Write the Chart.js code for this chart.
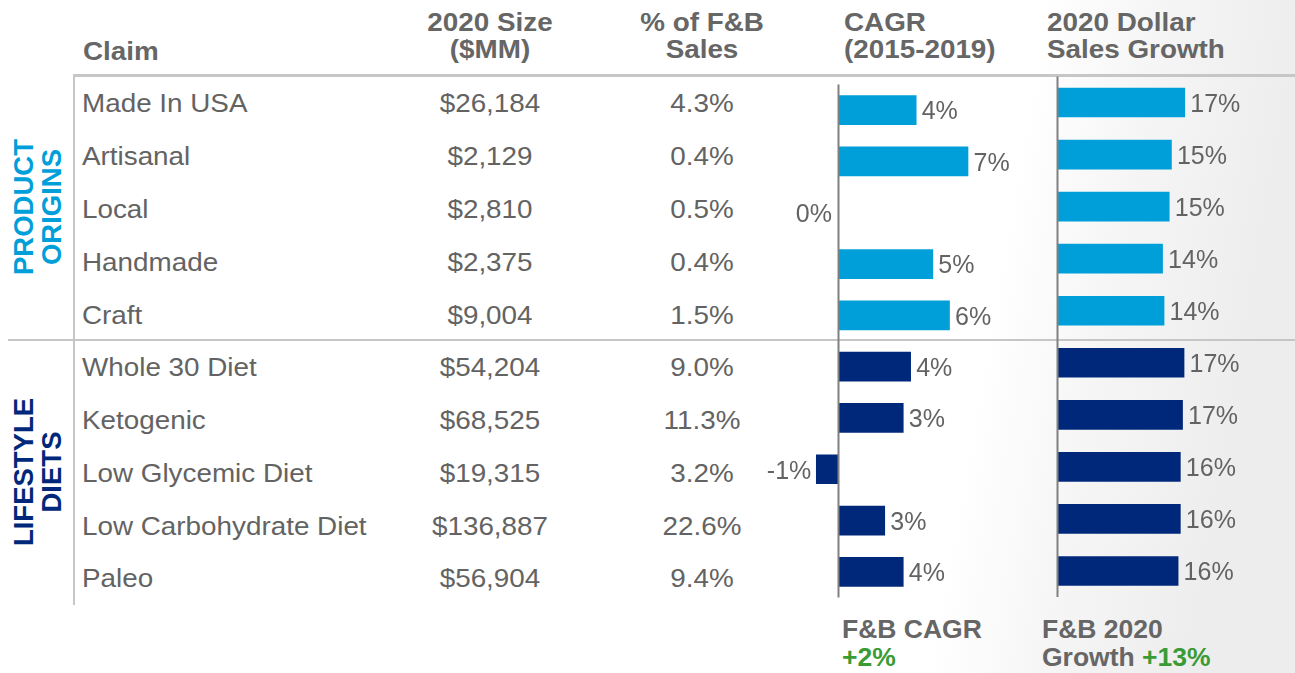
<!DOCTYPE html>
<html>
<head>
<meta charset="utf-8">
<script src="https://cdn.jsdelivr.net/npm/chart.js@4/dist/chart.umd.min.js"></script>
<style>
  html, body { margin: 0; padding: 0; }
  body {
    width: 1295px; height: 673px; position: relative; overflow: hidden;
    font-family: "Liberation Sans", Arial, sans-serif; color: #636363;
    background: linear-gradient(100deg, #ffffff 0px, #ffffff 1030px, #f5f5f5 1150px, #ededed 1295px);
  }
  .abs { position: absolute; white-space: nowrap; }
  .hdr { font-weight: bold; font-size: 26.5px; line-height: 26.7px; color: #666; }
  .cell { font-size: 26.5px; line-height: 26.5px; }
  .line { position: absolute; background: #c6c6c6; }
  .grp { position: absolute; font-weight: bold; font-size: 27.5px; line-height: 28px; text-align: center; width: 240px; height: 56px; transform: rotate(-90deg); }
  .note { font-weight: bold; font-size: 26.5px; line-height: 28px; color: #666; }
  canvas { position: absolute; }
</style>
</head>
<body>
<div id="root"></div>
<canvas id="cagr" width="300" height="540" style="left:740px; top:70px;"></canvas>
<canvas id="growth" width="255" height="540" style="left:1040px; top:70px;"></canvas>
<script>
// ---- data ----
const claims = ["Made In USA", "Artisanal", "Local", "Handmade", "Craft",
                "Whole 30 Diet", "Ketogenic", "Low Glycemic Diet", "Low Carbohydrate Diet", "Paleo"];
const groups = ["PRODUCT ORIGINS", "PRODUCT ORIGINS", "PRODUCT ORIGINS", "PRODUCT ORIGINS", "PRODUCT ORIGINS",
                "LIFESTYLE DIETS", "LIFESTYLE DIETS", "LIFESTYLE DIETS", "LIFESTYLE DIETS", "LIFESTYLE DIETS"];
const size2020 = ["$26,184", "$2,129", "$2,810", "$2,375", "$9,004",
                  "$54,204", "$68,525", "$19,315", "$136,887", "$56,904"];
const shareOfFB = ["4.3%", "0.4%", "0.5%", "0.4%", "1.5%",
                   "9.0%", "11.3%", "3.2%", "22.6%", "9.4%"];
const cagrValues = [4.2, 7.0, 0, 5.1, 6.0, 3.9, 3.5, -1.2, 2.5, 3.5];
const cagrLabels = ["4%", "7%", "0%", "5%", "6%", "4%", "3%", "-1%", "3%", "4%"];
const growthValues = [17.2, 15.4, 15.1, 14.2, 14.4, 17.1, 16.9, 16.6, 16.6, 16.3];
const growthLabels = ["17%", "15%", "15%", "14%", "14%", "17%", "17%", "16%", "16%", "16%"];
const headers = ["Claim", "2020 Size\n($MM)", "% of F&B\nSales", "CAGR\n(2015-2019)", "2020 Dollar\nSales Growth"];
const fbCagr = "+2%";
const fbGrowth = "+13%";

const groupColors = { "PRODUCT ORIGINS": "#009FDA", "LIFESTYLE DIETS": "#00287A" };
const barColors = groups.map(g => groupColors[g]);

// ---- table text (HTML) ----
const root = document.getElementById('root');
function add(cls, html, style) {
  const d = document.createElement('div');
  d.className = 'abs ' + cls;
  d.innerHTML = html;
  Object.assign(d.style, style);
  root.appendChild(d);
  return d;
}
const STRETCH = 'scaleX(1.05)';
// headers
add('hdr', headers[0], { left: '83px', top: '38px', transform: STRETCH, transformOrigin: 'left center' });
add('hdr', headers[1].replace('\n', '<br>'), { left: '390px', width: '200px', textAlign: 'center', top: '9.3px', transform: STRETCH });
add('hdr', headers[2].replace('\n', '<br>'), { left: '602px', width: '200px', textAlign: 'center', top: '9.3px', transform: STRETCH });
add('hdr', headers[3].replace('\n', '<br>'), { left: '843.5px', top: '9.3px', transform: STRETCH, transformOrigin: 'left center' });
add('hdr', headers[4].replace('\n', '<br>'), { left: '1047px', top: '9.3px', transform: STRETCH, transformOrigin: 'left center' });

// rows
claims.forEach((c, i) => {
  const top = (112.8 + 52.78 * i - 22.4) + 'px';
  add('cell', c, { left: '82px', top, transform: STRETCH, transformOrigin: 'left center' });
  add('cell', size2020[i], { left: '390px', width: '200px', textAlign: 'center', top, transform: STRETCH });
  add('cell', shareOfFB[i], { left: '601.5px', width: '200px', textAlign: 'center', top, transform: STRETCH });
});

// group labels
const uniqueGroups = [...new Set(groups)];
const groupCenters = { "PRODUCT ORIGINS": 206.5, "LIFESTYLE DIETS": 472 };
uniqueGroups.forEach(g => {
  const parts = g.split(' ');
  const d = document.createElement('div');
  d.className = 'grp';
  d.innerHTML = parts.join('<br>');
  d.style.left = (38.2 - 120) + 'px';
  d.style.top = (groupCenters[g] - 28) + 'px';
  d.style.color = groupColors[g];
  root.appendChild(d);
});

// lines
function line(l, t, w, h) {
  const d = document.createElement('div');
  d.className = 'line';
  Object.assign(d.style, { left: l + 'px', top: t + 'px', width: w + 'px', height: h + 'px' });
  root.appendChild(d);
}
line(73, 73.5, 1295 - 73, 3);
line(8, 338.5, 1295 - 8, 2.5);
line(72.5, 75, 2.5, 530);

// bottom notes
add('note', 'F&amp;B CAGR<br><span style="color:#3A9B35">' + fbCagr + '</span>', { left: '842px', top: '615px' });
add('note', 'F&amp;B 2020<br>Growth <span style="color:#3A9B35">' + fbGrowth + '</span>', { left: '1042px', top: '615px' });

// ---- charts ----
const valueLabels = {
  id: 'valueLabels',
  afterDatasetsDraw(chart, args, opts) {
    const ctx = chart.ctx;
    const meta = chart.getDatasetMeta(0);
    const zero = chart.scales.x.getPixelForValue(0);
    const area = chart.chartArea;
    ctx.save();
    ctx.strokeStyle = '#808080';
    ctx.lineWidth = 2;
    ctx.beginPath();
    ctx.moveTo(zero, area.top);
    ctx.lineTo(zero, area.bottom);
    ctx.stroke();
    ctx.font = '25px "Liberation Sans", Arial, sans-serif';
    ctx.fillStyle = '#636363';
    ctx.textBaseline = 'alphabetic';
    meta.data.forEach((bar, i) => {
      const v = chart.data.datasets[0].data[i];
      const txt = opts.labels[i];
      const y = bar.y + 9.3;
      if (v > 0) {
        ctx.textAlign = 'left';
        ctx.fillText(txt, bar.x + 5.5, y);
      } else {
        ctx.textAlign = 'right';
        ctx.fillText(txt, Math.min(bar.x, zero - 1.5) - 5, y);
      }
    });
    ctx.restore();
  }
};

function makeChart(id, values, labels, min, max, padding) {
  return new Chart(document.getElementById(id), {
    type: 'bar',
    data: {
      labels: claims,
      datasets: [{
        data: values,
        backgroundColor: barColors,
        borderWidth: 0,
        barThickness: 29
      }]
    },
    options: {
      indexAxis: 'y',
      responsive: false,
      animation: false,
      devicePixelRatio: 1,
      layout: { padding },
      scales: {
        x: { type: 'linear', min, max, display: false },
        y: { type: 'category', display: false, offset: true }
      },
      plugins: {
        legend: { display: false },
        tooltip: { enabled: false },
        valueLabels: { labels }
      }
    },
    plugins: [valueLabels]
  });
}

makeChart('cagr', cagrValues, cagrLabels, -4, 10, { left: 24.5, right: 16.5, top: 14.5, bottom: 12.5 });
makeChart('growth', growthValues, growthLabels, 0, 25, { left: 17.5, right: 52.5, top: 6.5, bottom: 13 });
</script>
</body>
</html>
